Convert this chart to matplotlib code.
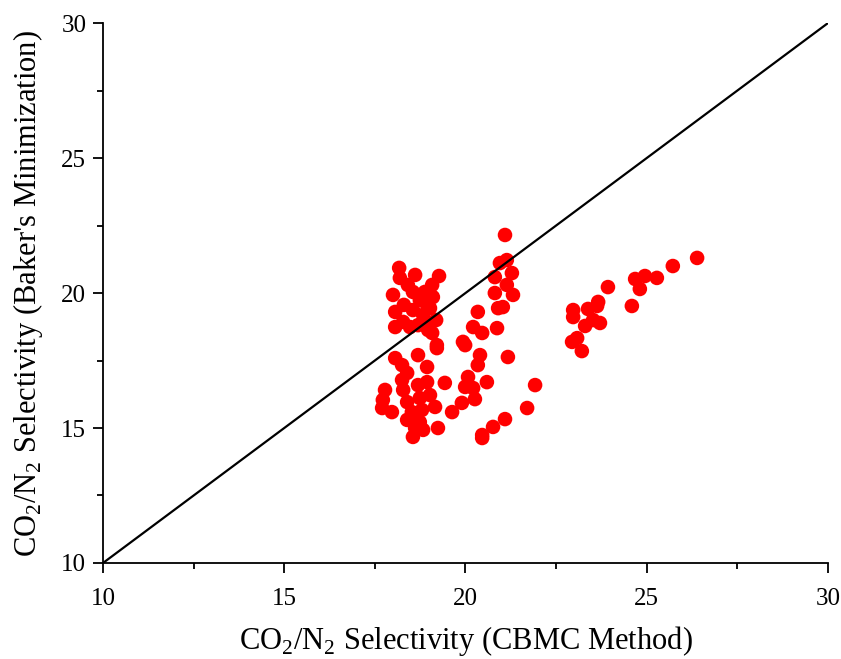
import numpy as np
import matplotlib
matplotlib.use("Agg")
import matplotlib.pyplot as plt
from matplotlib.ticker import MultipleLocator

plt.rcParams['font.family'] = ['Liberation Serif', 'DejaVu Serif']
plt.rcParams['mathtext.fontset'] = 'custom'
plt.rcParams['mathtext.rm'] = 'Liberation Serif'

# CBMC selectivity (x) vs Baker's minimization selectivity (y)
cbmc = [
    # upper left cluster
    18.17, 18.61, 19.27, 18.19, 19.08, 18.00, 18.55, 19.10, 18.06, 18.55,
    19.02, 18.06, 18.47, 18.88, 19.08, 19.21, 18.30, 18.74, 18.83, 18.28,
    18.69, 18.94, 18.41, 18.88, 19.19, 18.97,
    # lower left cluster
    18.69, 19.21, 18.06, 18.25, 18.94, 18.39, 18.25, 19.43, 18.69, 18.94,
    17.78, 18.28, 19.02, 18.74, 17.72, 18.39, 19.16, 19.63, 17.70, 17.97,
    18.52, 18.80, 18.39, 18.74, 18.61, 19.24, 18.83, 18.55,
    # middle column
    21.09, 20.95, 21.14, 20.81, 21.28, 21.14, 20.81, 21.31, 20.90, 21.03,
    20.34, 20.21, 20.46, 20.87, 19.93, 19.99, 20.40, 20.34, 21.17, 20.07,
    19.99, 20.21, 20.59, 20.26, 21.92, 19.90, 21.70, 21.09, 20.76, 20.46,
    20.46,
    # right group
    23.93, 22.97, 22.97, 23.38, 23.63, 23.66, 23.30, 23.52, 23.71, 22.94,
    23.08, 23.21, 24.59, 24.68, 24.95, 24.81, 25.28, 25.72, 26.39,
]
baker = [
    20.93, 20.67, 20.63, 20.56, 20.30, 19.93, 20.04, 19.85, 19.30, 19.37,
    19.44, 18.74, 18.74, 18.93, 18.52, 18.07, 19.56, 19.74, 19.19, 18.93,
    18.81, 19.56, 20.30, 20.04, 19.00, 18.63,
    17.70, 17.96, 17.59, 17.33, 17.26, 17.04, 16.78, 16.67, 16.59, 16.70,
    16.41, 16.41, 16.22, 16.11, 16.04, 15.96, 15.78, 15.59, 15.74, 15.59,
    15.59, 15.67, 15.30, 15.22, 15.00, 15.00, 14.93, 14.67,
    22.15, 21.11, 21.22, 20.59, 20.74, 20.30, 20.00, 19.93, 19.44, 19.48,
    19.30, 18.74, 18.52, 18.70, 18.19, 18.07, 17.70, 17.33, 17.63, 16.89,
    16.52, 16.48, 16.70, 16.07, 16.59, 15.93, 15.74, 15.33, 15.04, 14.74,
    14.63,
    20.22, 19.37, 19.11, 19.41, 19.52, 19.67, 18.78, 19.00, 18.89, 18.19,
    18.33, 17.85, 19.52, 20.52, 20.63, 20.15, 20.56, 21.00, 21.30,
]
parity = [10, 30]

fig = plt.figure(figsize=(8.41, 6.59), dpi=100)
ax = fig.add_axes([0.1225, 0.1457, 0.862, 0.8193])

ax.plot(parity, parity, color='black', lw=1.6, zorder=3)
ax.scatter(cbmc, baker, s=110, color='#ff0000', edgecolors='none', zorder=2)

ax.set_xlim(10, 30)
ax.set_ylim(10, 30)
ax.xaxis.set_major_locator(MultipleLocator(5))
ax.yaxis.set_major_locator(MultipleLocator(5))
ax.xaxis.set_minor_locator(MultipleLocator(2.5))
ax.yaxis.set_minor_locator(MultipleLocator(2.5))

for s in ['top', 'right']:
    ax.spines[s].set_visible(False)
for s in ['left', 'bottom']:
    ax.spines[s].set_linewidth(1.3)

ax.tick_params(which='major', direction='out', length=7, width=1.3, labelsize=18)
ax.tick_params(axis='x', which='major', pad=11)
ax.tick_params(axis='y', which='major', pad=5)
ax.tick_params(which='minor', direction='out', length=4, width=1.3)

ax.set_xlabel(r'CO$_2$/N$_2$ Selectivity (CBMC Method)', fontsize=22, labelpad=10)
ax.set_ylabel(r"CO$_2$/N$_2$ Selectivity (Baker's Minimization)", fontsize=22, labelpad=12)

fig.savefig('out.png', dpi=100)
